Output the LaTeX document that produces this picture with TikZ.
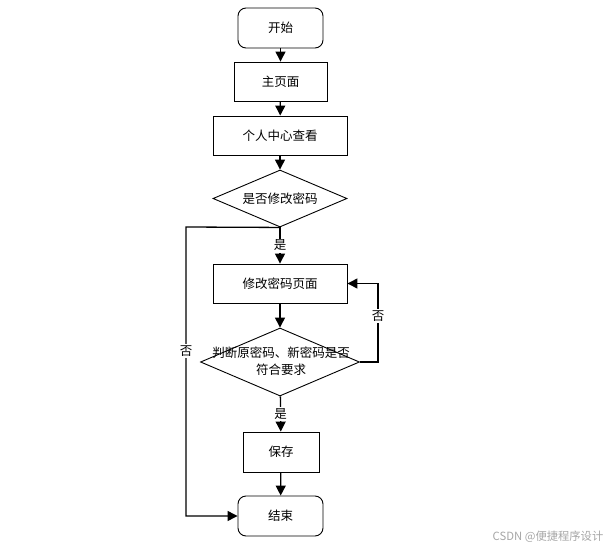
\documentclass[tikz,border=0pt]{standalone}
\usepackage{fontspec}
\setmainfont{Noto Sans CJK SC}
\usetikzlibrary{shapes.geometric, arrows.meta}

\begin{document}
\begin{tikzpicture}[x=1pt, y=-1pt,
    font=\fontsize{12.5}{17}\selectfont,
    box/.style={draw, line width=0.9pt, minimum height=39pt, inner sep=0pt},
    startstop/.style={box, rounded corners=8pt, minimum width=85pt, minimum height=40pt},
    decision/.style={draw, diamond, line width=0.9pt, inner sep=0pt},
    flow/.style={line width=1.3pt, -{Triangle[length=10pt, width=10pt]}},
    tag/.style={fill=white, inner sep=1.5pt}]
    \useasboundingbox (0,0) rectangle (611,549);

    % Boxes
    \node[startstop] (start) at (280.5,28) {开始};
    \node[box, minimum width=93pt] (home) at (280.5,81.5) {主页面};
    \node[box, minimum width=134pt] (center) at (280,135.5) {个人中心查看};
    \node[decision, aspect=2.35, minimum width=134pt, minimum height=57pt] (ask) at (280,198.5) {是否修改密码};
    \node[box, minimum width=134pt] (page) at (280,283.5) {修改密码页面};
    \node[decision, minimum width=159pt, minimum height=68pt] (check) at (280,362) {};
    \node[align=center] (checktext) at (281,361) {判断原密码、新密码是否\\符合要求};
    \node[box, minimum width=76pt, minimum height=40pt] (save) at (281,452) {保存};
    \node[startstop] (end) at (280.5,516) {结束};

    % Turning points
    \coordinate (leftturn) at (186,227);
    \coordinate (rightturn) at (378,362);

    % Connectors
    \draw[flow] (start) -- (home);
    \draw[flow] (home) -- (center);
    \draw[flow] (center) -- (ask);
    \draw[flow] (ask) -- node[tag] {是} (page);
    \draw[flow] (ask.south) -- (leftturn) |- node[tag, pos=0.215] {否} (end.west);
    \draw[flow] (page) -- (check);
    \draw[flow] (check.east) -- (rightturn) |- node[tag, pos=0.293] {否} (page.east);
    \draw[flow] (check) -- node[tag] {是} (save);
    \draw[flow] (save) -- (end);

    % Watermark
    \node[text=black!35, font=\fontsize{11.3}{12}\selectfont] (mark) at (548,537) {CSDN @便捷程序设计};
\end{tikzpicture}
\end{document}
